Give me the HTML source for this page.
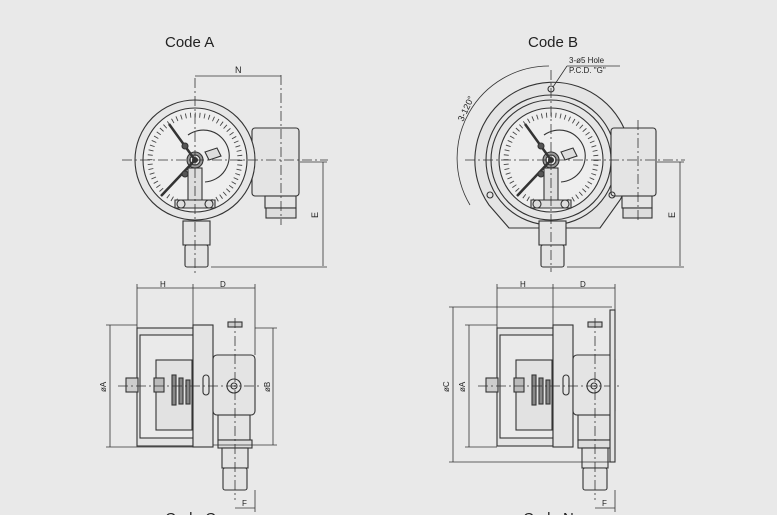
<!DOCTYPE html>
<html><head><style>
html,body{margin:0;padding:0;background:#e9e9e9;}
svg{display:block}
text{font-family:"Liberation Sans",sans-serif;fill:#222}
</style></head><body>
<svg width="777" height="515" viewBox="0 0 777 515" xmlns="http://www.w3.org/2000/svg">
<rect width="777" height="515" fill="#e9e9e9"/>
<defs>
<g id="gauge" fill="none" stroke="#333" stroke-width="1.1">
  <circle r="60" fill="#e6e6e6"/>
  <circle r="52" fill="#eeeeee"/>
  <circle r="45" stroke-width="5" stroke="#444" stroke-dasharray="0.9 3.8" fill="none"/>
  <path d="M-7,-25 A26,26 0 1,1 10,22" />
  <circle r="8" fill="#999"/><circle r="5" fill="#eee"/><circle r="2.5" fill="#333"/>
  <line x1="-34" y1="36" x2="0" y2="0" stroke-width="2.5"/>
  <line x1="-26" y1="-36" x2="0" y2="0" stroke-width="2.5"/>
  <rect x="-7" y="8" width="14" height="34" fill="#ddd"/>
  <path d="M-20,40 h40 v8 h-40 z" fill="#ddd"/>
  <circle cx="-14" cy="44" r="4"/><circle cx="14" cy="44" r="4"/>
  <path d="M10,-8 l12,-4 l4,8 l-12,4z" fill="#ddd"/>
  <circle cx="-10" cy="-14" r="3" fill="#555"/><circle cx="-10" cy="14" r="3" fill="#555"/>
</g>
</defs>

<text x="165" y="47" font-size="15">Code A</text>
<text x="528" y="47" font-size="15">Code B</text>
<text x="165" y="523" font-size="15">Code C</text>
<text x="523" y="523" font-size="15">Code N</text>

<!-- Code A top -->
<g fill="none" stroke="#333" stroke-width="1.1">
  <rect x="252" y="128" width="47" height="68" rx="3" fill="#e4e4e4"/>
  <rect x="265" y="196" width="31" height="12" fill="#e4e4e4"/>
  <rect x="266" y="208" width="30" height="10" fill="#ddd"/>
  <rect x="183" y="221" width="27" height="24" fill="#e4e4e4"/>
  <rect x="185" y="245" width="23" height="22" rx="2" fill="#e4e4e4"/>
</g>
<use href="#gauge" x="195" y="160"/>
<g stroke="#333" stroke-width="0.8" fill="none" stroke-dasharray="10 3 2 3">
  <line x1="122" y1="160" x2="328" y2="160"/>
  <line x1="195" y1="78" x2="195" y2="275"/>
  <line x1="281" y1="75" x2="281" y2="225"/>
</g>
<g stroke="#333" stroke-width="0.8" fill="none">
  <line x1="195" y1="76" x2="281" y2="76"/>
  <line x1="323" y1="162" x2="323" y2="266"/>
  <line x1="211" y1="267" x2="327" y2="267"/>
  <line x1="300" y1="162" x2="327" y2="162"/>
</g>
<text x="235" y="73" font-size="9">N</text>
<text x="318" y="218" font-size="9" transform="rotate(-90 318 218)">E</text>

<!-- Code B top -->
<g fill="none" stroke="#333" stroke-width="1.1">
  <path d="M509,228 L489,205 A78,78 0 1,1 620,200 L600,228 Z" fill="#e4e4e4"/>
  <circle cx="551" cy="160" r="65" fill="#e6e6e6"/>
  <rect x="611" y="128" width="45" height="68" rx="3" fill="#e4e4e4"/>
  <rect x="622" y="196" width="30" height="12" fill="#e4e4e4"/>
  <rect x="623" y="208" width="29" height="10" fill="#ddd"/>
  <rect x="539" y="221" width="27" height="24" fill="#e4e4e4"/>
  <rect x="541" y="245" width="23" height="22" rx="2" fill="#e4e4e4"/>
  <path d="M549,66 A92,92 0 0,0 470,205" stroke-width="0.8"/>
  <circle cx="551" cy="89" r="3"/><circle cx="490" cy="195" r="3"/><circle cx="612" cy="195" r="3"/>
</g>
<use href="#gauge" x="551" y="160"/>
<g stroke="#333" stroke-width="0.8" fill="none" stroke-dasharray="10 3 2 3">
  <line x1="465" y1="160" x2="685" y2="160"/>
  <line x1="551" y1="70" x2="551" y2="272"/>
  <line x1="638" y1="120" x2="638" y2="222"/>
</g>
<g stroke="#333" stroke-width="0.8" fill="none">
  <line x1="680" y1="162" x2="680" y2="266"/>
  <line x1="567" y1="267" x2="684" y2="267"/>
  <line x1="657" y1="162" x2="684" y2="162"/>
  <line x1="553" y1="87" x2="567" y2="66"/><line x1="567" y1="66" x2="620" y2="66"/>
</g>
<text x="569" y="63" font-size="8">3-ø5  Hole</text>
<text x="569" y="73" font-size="8">P.C.D. "G"</text>
<text x="463" y="122" font-size="9" transform="rotate(-65 463 122)">3-120°</text>
<text x="675" y="218" font-size="9" transform="rotate(-90 675 218)">E</text>

<!-- Bottom views -->
<g id="side">
<g fill="none" stroke="#333" stroke-width="1.1">
  <rect x="137" y="328" width="56" height="118" fill="#e4e4e4"/>
  <rect x="140" y="335" width="53" height="103" fill="#eaeaea"/>
  <rect x="156" y="360" width="36" height="70" fill="#e2e2e2"/>
  <rect x="193" y="325" width="20" height="122" fill="#e4e4e4"/>
  <rect x="213" y="355" width="42" height="60" rx="4" fill="#e4e4e4"/>
  <rect x="218" y="415" width="32" height="25" fill="#e4e4e4"/>
  <rect x="218" y="440" width="34" height="8" fill="#ddd"/>
  <rect x="222" y="448" width="26" height="20" fill="#e4e4e4"/>
  <rect x="223" y="468" width="24" height="22" rx="2" fill="#e4e4e4"/>
  <rect x="126" y="378" width="12" height="14" fill="#ccc"/>
  <rect x="154" y="378" width="10" height="14" fill="#bbb"/>
  <rect x="172" y="375" width="4" height="30" fill="#888"/>
  <rect x="179" y="378" width="4" height="26" fill="#888"/>
  <rect x="186" y="380" width="4" height="24" fill="#888"/>
  <rect x="203" y="375" width="6" height="20" rx="3"/>
  <circle cx="234" cy="386" r="7"/><circle cx="234" cy="386" r="3"/>
  <rect x="228" y="322" width="14" height="5" fill="#ccc"/>
</g>
<g stroke="#333" stroke-width="0.8" fill="none" stroke-dasharray="10 3 2 3">
  <line x1="118" y1="386" x2="262" y2="386"/>
  <line x1="235" y1="318" x2="235" y2="500"/>
</g>
<g stroke="#333" stroke-width="0.8" fill="none">
  <line x1="137" y1="288" x2="193" y2="288"/><line x1="193" y1="288" x2="255" y2="288"/>
  <line x1="137" y1="284" x2="137" y2="328"/><line x1="193" y1="284" x2="193" y2="325"/><line x1="255" y1="284" x2="255" y2="355"/>
  <line x1="235" y1="508" x2="255" y2="508"/><line x1="255" y1="490" x2="255" y2="512"/>
</g>
<text x="160" y="287" font-size="8">H</text>
<text x="220" y="287" font-size="8">D</text>
<text x="242" y="506" font-size="8">F</text>
</g>
<g stroke="#333" stroke-width="0.8" fill="none">
  <line x1="110" y1="325" x2="110" y2="447"/><line x1="106" y1="325" x2="137" y2="325"/><line x1="106" y1="447" x2="193" y2="447"/>
  <line x1="273" y1="328" x2="273" y2="445"/><line x1="255" y1="328" x2="277" y2="328"/><line x1="213" y1="445" x2="277" y2="445"/>
</g>
<text x="106" y="392" font-size="8" transform="rotate(-90 106 392)">øA</text>
<text x="270" y="392" font-size="8" transform="rotate(-90 270 392)">øB</text>

<use href="#side" x="360" y="0"/>
<g fill="none" stroke="#333" stroke-width="1.1">
  <rect x="610" y="310" width="5" height="152" fill="#e4e4e4"/>
</g>
<g stroke="#333" stroke-width="0.8" fill="none">
  <line x1="453" y1="307" x2="453" y2="462"/><line x1="449" y1="307" x2="612" y2="307"/><line x1="449" y1="462" x2="612" y2="462"/>
  <line x1="469" y1="325" x2="469" y2="447"/><line x1="465" y1="325" x2="497" y2="325"/><line x1="465" y1="447" x2="497" y2="447"/>
</g>
<text x="449" y="392" font-size="8" transform="rotate(-90 449 392)">øC</text>
<text x="465" y="392" font-size="8" transform="rotate(-90 465 392)">øA</text>
</svg>
</body></html>
